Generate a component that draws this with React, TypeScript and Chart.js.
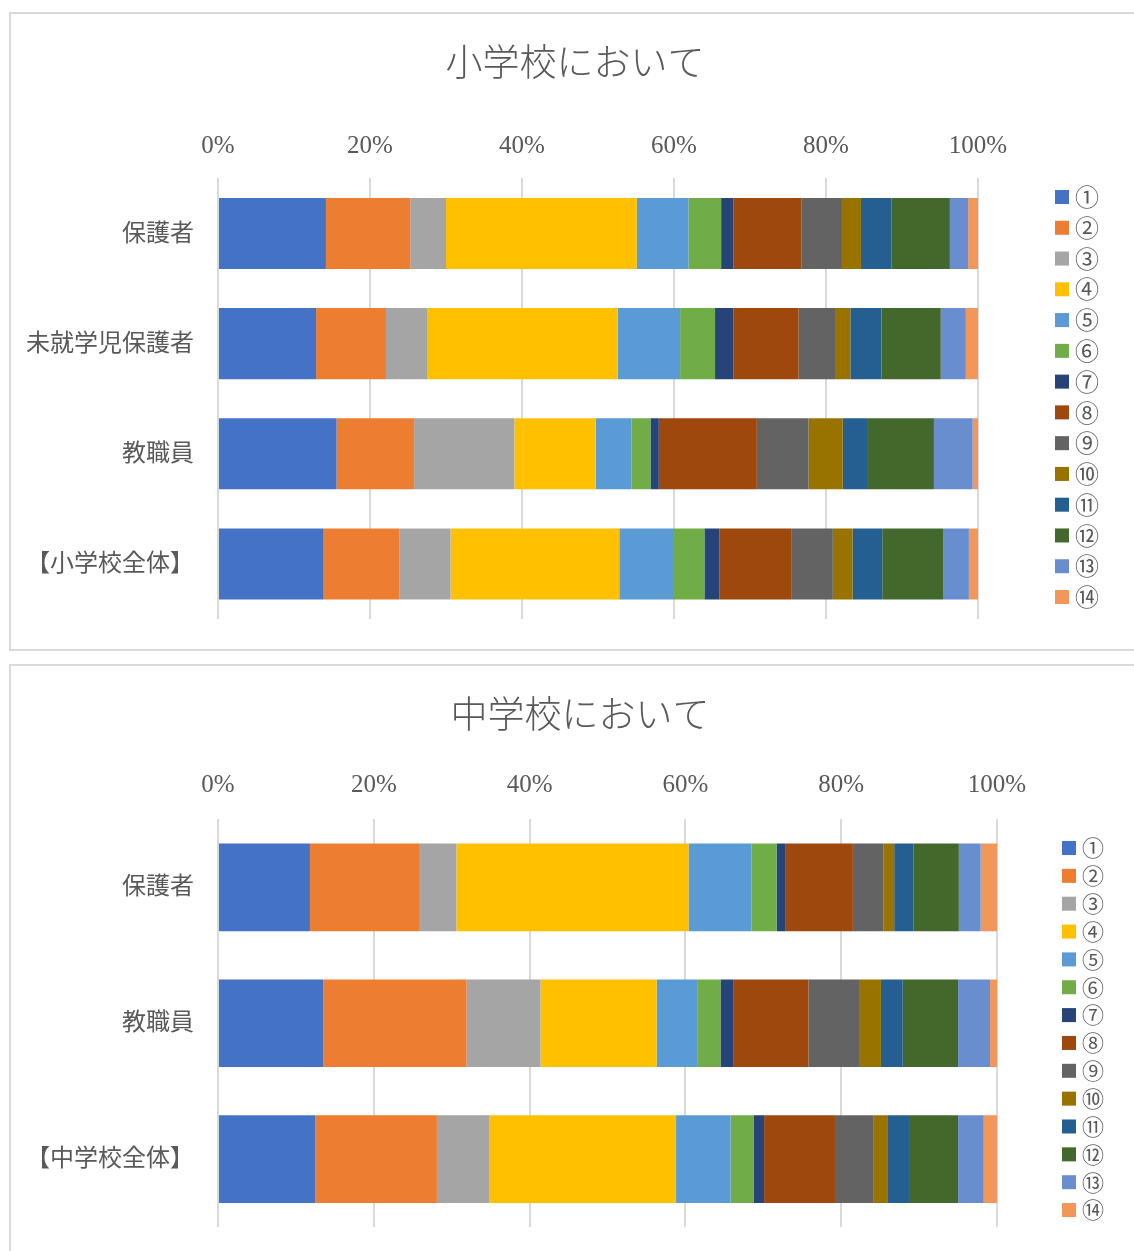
import React, { useEffect, useRef } from 'react';
import { Chart, registerables, layouts } from 'chart.js';

Chart.register(...registerables);

// ---------- data ----------
const seriesLabels = ['①', '②', '③', '④', '⑤', '⑥', '⑦', '⑧', '⑨', '⑩', '⑪', '⑫', '⑬', '⑭'];
const seriesColors = [
  '#4472C4', '#ED7D31', '#A5A5A5', '#FFC000', '#5B9BD5', '#70AD47', '#264478',
  '#9E480E', '#636363', '#997300', '#255E91', '#43682B', '#698ED0', '#F1975A',
];
const xTicks = [0, 20, 40, 60, 80, 100];

// 小学校において
const elemTitle = '小学校において';
const elemCategories = ['保護者', '未就学児保護者', '教職員', '【小学校全体】'];
const elemParents = [14.2, 11.1, 4.7, 25.1, 6.8, 4.3, 1.6, 9.0, 5.3, 2.5, 4.0, 7.7, 2.4, 1.3];
const elemPreschoolParents = [12.9, 9.2, 5.4, 25.1, 8.2, 4.6, 2.4, 8.6, 4.9, 1.9, 4.1, 7.8, 3.3, 1.6];
const elemStaff = [15.6, 10.2, 13.2, 10.7, 4.7, 2.5, 1.1, 12.9, 6.8, 4.5, 3.2, 8.8, 5.1, 0.7];
const elemTotal = [13.9, 10.0, 6.7, 22.2, 7.2, 4.0, 2.0, 9.5, 5.4, 2.6, 3.9, 8.0, 3.4, 1.2];

// 中学校において
const juniorTitle = '中学校において';
const juniorCategories = ['保護者', '教職員', '【中学校全体】'];
const juniorParents = [11.8, 14.0, 4.8, 29.8, 8.1, 3.2, 1.1, 8.7, 3.9, 1.4, 2.5, 5.8, 2.8, 2.1];
const juniorStaff = [13.5, 18.4, 9.5, 14.9, 5.3, 2.9, 1.7, 9.6, 6.6, 2.7, 2.8, 7.1, 4.1, 0.9];
const juniorTotal = [12.5, 15.6, 6.7, 24.0, 7.0, 3.0, 1.3, 9.1, 4.9, 1.9, 2.7, 6.3, 3.3, 1.7];

// ---------- styles ----------
const SERIF = '"Liberation Serif", "Noto Sans CJK JP", serif';
const CJK = '"Noto Sans CJK JP", "Noto Sans", sans-serif';
const TEXT = '#595959';
const GRID = '#d9d9d9';

const sideLegend = {
  id: 'sideLegend',
  afterDraw(chart: any, _args: any, opts: any) {
    const ctx = chart.ctx;
    ctx.save();
    ctx.font = `${opts.fontSize}px ${CJK}`;
    ctx.textBaseline = 'middle';
    ctx.textAlign = 'left';
    chart.data.datasets.forEach((ds: any, i: number) => {
      const cy = opts.y + i * opts.pitch;
      ctx.fillStyle = ds.backgroundColor;
      ctx.fillRect(opts.x, cy - opts.box / 2, opts.box, opts.box);
      ctx.fillStyle = TEXT;
      ctx.fillText(ds.label, opts.textX, cy);
    });
    ctx.restore();
  },
};

// reserves room on the right of the plot area (for the legend) without narrowing the title
function makeRightSpacer(gap: number) {
  return {
    id: 'rightSpacer',
    beforeInit(chart: any) {
      const box: any = {
        position: 'right',
        weight: 0,
        fullSize: false,
        options: {},
        width: 0,
        height: 0,
        left: 0,
        right: 0,
        top: 0,
        bottom: 0,
        isHorizontal() {
          return false;
        },
        update(_maxWidth: number, maxHeight: number) {
          this.width = gap;
          this.height = maxHeight;
        },
        draw() {},
      };
      layouts.addBox(chart, box);
    },
  };
}

type Cfg = {
  title: string;
  categories: string[];
  rows: number[][];
  width: number;
  height: number;
  titleTop: number;
  titleBottom: number;
  tickPad: number;
  rightGap: number;
  padBottom: number;
  legend: { x: number; textX: number; y: number; pitch: number; fontSize: number; box: number };
};

function StackedChart(props: Cfg) {
  const ref = useRef<HTMLCanvasElement | null>(null);
  useEffect(() => {
    if (!ref.current) return;
    const datasets = seriesLabels.map((label, si) => ({
      label,
      data: props.rows.map((row) => row[si]),
      backgroundColor: seriesColors[si],
      borderWidth: 0,
      barPercentage: 0.645,
      categoryPercentage: 1,
    }));
    const chart = new Chart(ref.current, {
      type: 'bar',
      data: { labels: props.categories, datasets },
      plugins: [sideLegend as any, makeRightSpacer(props.rightGap) as any],
      options: {
        indexAxis: 'y',
        responsive: false,
        animation: false,
        layout: {
          autoPadding: false,
          padding: { top: 0, left: 0, right: 0, bottom: props.padBottom },
        },
        scales: {
          x: {
            position: 'top',
            stacked: true,
            min: 0,
            max: 100,
            afterBuildTicks: (scale: any) => {
              scale.ticks = xTicks.map((v) => ({ value: v }));
            },
            ticks: {
              callback: (v: any) => `${v}%`,
              color: TEXT,
              font: { family: SERIF, size: 25 },
              padding: props.tickPad,
              maxRotation: 0,
            },
            grid: { color: GRID, lineWidth: 2, drawTicks: false },
            border: { display: false },
          },
          y: {
            stacked: true,
            afterFit: (scale: any) => {
              scale.width = 207;
            },
            ticks: {
              color: TEXT,
              font: { family: CJK, size: 24, lineHeight: 0.2 },
              padding: 24,
              labelOffset: -2,
            },
            grid: { display: false, drawTicks: false },
            border: { display: false },
          },
        },
        plugins: {
          legend: { display: false },
          tooltip: { enabled: false },
          title: {
            display: true,
            text: props.title,
            color: TEXT,
            font: { family: CJK, size: 37, weight: '300' as any },
            padding: { top: props.titleTop, bottom: props.titleBottom },
          },
          sideLegend: props.legend,
        } as any,
      },
    });
    return () => chart.destroy();
  }, []);
  return (
    <canvas
      ref={ref}
      width={props.width}
      height={props.height}
      style={{ display: 'block', width: props.width, height: props.height }}
    />
  );
}

export default function App() {
  return (
    <div
      style={{
        position: 'fixed',
        left: 0,
        top: 0,
        width: 1134,
        height: 1251,
        overflow: 'hidden',
        background: '#ffffff',
      }}
    >
      <div
        style={{
          position: 'absolute',
          left: 9,
          top: 12,
          width: 1128,
          height: 635,
          border: `2px solid ${GRID}`,
        }}
      >
        <StackedChart
          title={elemTitle}
          categories={elemCategories}
          rows={[elemParents, elemPreschoolParents, elemStaff, elemTotal]}
          width={1128}
          height={635}
          titleTop={26}
          titleBottom={30}
          tickPad={17}
          rightGap={161}
          padBottom={30}
          legend={{ x: 1044, textX: 1064, y: 183, pitch: 30.77, fontSize: 24, box: 14 }}
        />
      </div>
      <div
        style={{
          position: 'absolute',
          left: 9,
          top: 664,
          width: 1138,
          height: 600,
          border: `2px solid ${GRID}`,
        }}
      >
        <StackedChart
          title={juniorTitle}
          categories={juniorCategories}
          rows={[juniorParents, juniorStaff, juniorTotal]}
          width={1138}
          height={600}
          titleTop={26}
          titleBottom={15}
          tickPad={19}
          rightGap={152}
          padBottom={39}
          legend={{ x: 1051, textX: 1071, y: 182, pitch: 27.85, fontSize: 22, box: 14 }}
        />
      </div>
    </div>
  );
}
